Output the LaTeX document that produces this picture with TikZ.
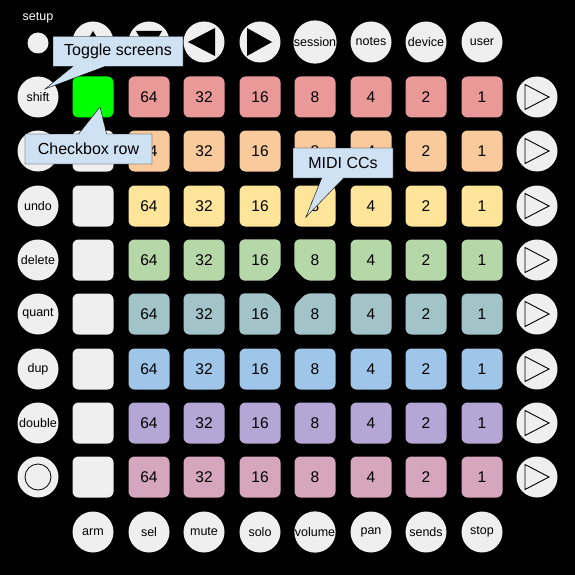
\documentclass[tikz,border=0pt]{standalone}
\usepackage{fontspec}
\setmainfont{Liberation Sans}
\usetikzlibrary{shapes.callouts,backgrounds}

\definecolor{btngrey}{HTML}{EFEFEF}
\definecolor{checkon}{HTML}{00FF00}
\definecolor{notebg}{HTML}{CFE2F3}
\definecolor{padA}{HTML}{EA9999}
\definecolor{padB}{HTML}{F9CB9C}
\definecolor{padC}{HTML}{FFE599}
\definecolor{padD}{HTML}{B6D7A8}
\definecolor{padE}{HTML}{A2C4C9}
\definecolor{padF}{HTML}{9FC5E8}
\definecolor{padG}{HTML}{B4A7D6}
\definecolor{padH}{HTML}{D5A6BD}

\tikzset{
  btn/.style={circle, fill=btngrey, minimum size=41pt, inner sep=0pt, font=\fontsize{12.5}{14}\selectfont},
  pad/.style={rectangle, rounded corners=6pt, minimum size=41pt, inner sep=0pt, font=\fontsize{15.5}{18}\selectfont},
  note/.style={rectangle callout, draw=black, fill=notebg, minimum height=30pt, inner sep=0pt, font=\fontsize{16}{19}\selectfont},
}

\begin{document}
\begin{tikzpicture}[x=1pt,y=-1pt]
\begin{scope}[on background layer]
\fill[black] (0,0) rectangle (575,575);
\end{scope}
\useasboundingbox (0,0) rectangle (575,575);

\node[text=white, font=\fontsize{12.5}{14}\selectfont] (setuplbl) at (38,18) {setup};
\node[circle, fill=btngrey, minimum size=21pt, inner sep=0pt] (setup) at (38,43) {};

\node[btn] (upbtn) at (93,42) {};
\node[btn] (downbtn) at (149,42) {};
\node[btn] (leftbtn) at (204,42) {};
\node[btn] (rightbtn) at (260,42) {};
\node[btn] (session) at (315,42) {session};
\node[btn] (notes) at (371,42) {notes};
\node[btn] (device) at (426,42) {device};
\node[btn] (user) at (482,42) {user};
\fill (upbtn.center) ++(0,-11) -- ++(13,22) -- ++(-26,0) -- cycle;
\fill (downbtn.center) ++(0,11) -- ++(13,-22) -- ++(-26,0) -- cycle;
\fill (leftbtn.center) ++(-16,0) -- ++(27,-14) -- ++(0,28) -- cycle;
\fill (rightbtn.center) ++(12,0) -- ++(-25,-14) -- ++(0,28) -- cycle;

\node[btn] (shift) at (38,97) {shift};
\node[btn] (clickbtn) at (38,151) {};
\node[btn] (undo) at (38,206) {undo};
\node[btn] (delete) at (38,260) {delete};
\node[btn] (quant) at (38,314) {quant};
\node[btn] (dup) at (38,369) {dup};
\node[btn] (double) at (38,423) {double};
\node[btn] (rec) at (38,477) {};
\draw[line width=0.8pt] (rec.center) circle (13);

\node[pad, fill=checkon] (chkA) at (93,97) {};
\node[pad, fill=btngrey] (chkB) at (93,151) {};
\node[pad, fill=btngrey] (chkC) at (93,206) {};
\node[pad, fill=btngrey] (chkD) at (93,260) {};
\node[pad, fill=btngrey] (chkE) at (93,314) {};
\node[pad, fill=btngrey] (chkF) at (93,369) {};
\node[pad, fill=btngrey] (chkG) at (93,423) {};
\node[pad, fill=btngrey] (chkH) at (93,477) {};

\node[pad, fill=padA] (A64) at (149,97) {64};
\node[pad, fill=padA] (A32) at (204,97) {32};
\node[pad, fill=padA] (A16) at (260,97) {16};
\node[pad, fill=padA] (A8) at (315,97) {8};
\node[pad, fill=padA] (A4) at (371,97) {4};
\node[pad, fill=padA] (A2) at (426,97) {2};
\node[pad, fill=padA] (A1) at (482,97) {1};

\node[pad, fill=padB] (B64) at (149,151) {64};
\node[pad, fill=padB] (B32) at (204,151) {32};
\node[pad, fill=padB] (B16) at (260,151) {16};
\node[pad, fill=padB] (B8) at (315,151) {8};
\node[pad, fill=padB] (B4) at (371,151) {4};
\node[pad, fill=padB] (B2) at (426,151) {2};
\node[pad, fill=padB] (B1) at (482,151) {1};

\node[pad, fill=padC] (C64) at (149,206) {64};
\node[pad, fill=padC] (C32) at (204,206) {32};
\node[pad, fill=padC] (C16) at (260,206) {16};
\node[pad, fill=padC] (C8) at (315,206) {8};
\node[pad, fill=padC] (C4) at (371,206) {4};
\node[pad, fill=padC] (C2) at (426,206) {2};
\node[pad, fill=padC] (C1) at (482,206) {1};

\node[pad, fill=padD] (D64) at (149,260) {64};
\node[pad, fill=padD] (D32) at (204,260) {32};
\node[pad] (D16) at (260,260) {16};
\node[pad] (D8) at (315,260) {8};
\node[pad, fill=padD] (D4) at (371,260) {4};
\node[pad, fill=padD] (D2) at (426,260) {2};
\node[pad, fill=padD] (D1) at (482,260) {1};

\node[pad, fill=padE] (E64) at (149,314) {64};
\node[pad, fill=padE] (E32) at (204,314) {32};
\node[pad] (E16) at (260,314) {16};
\node[pad] (E8) at (315,314) {8};
\node[pad, fill=padE] (E4) at (371,314) {4};
\node[pad, fill=padE] (E2) at (426,314) {2};
\node[pad, fill=padE] (E1) at (482,314) {1};

\begin{scope}[on background layer]
\fill[padD, rounded corners=5pt] (D16.north west) -- (D16.north east) -- ([yshift=12pt]D16.south east) -- ([xshift=-12pt]D16.south east) -- (D16.south west) -- cycle;
\fill[padD, rounded corners=5pt] (D8.north west) -- (D8.north east) -- (D8.south east) -- ([xshift=12pt]D8.south west) -- ([yshift=12pt]D8.south west) -- cycle;
\fill[padE, rounded corners=5pt] (E16.north west) -- ([xshift=-12pt]E16.north east) -- ([yshift=-12pt]E16.north east) -- (E16.south east) -- (E16.south west) -- cycle;
\fill[padE, rounded corners=5pt] ([yshift=-12pt]E8.north west) -- ([xshift=12pt]E8.north west) -- (E8.north east) -- (E8.south east) -- (E8.south west) -- cycle;
\end{scope}

\node[pad, fill=padF] (F64) at (149,369) {64};
\node[pad, fill=padF] (F32) at (204,369) {32};
\node[pad, fill=padF] (F16) at (260,369) {16};
\node[pad, fill=padF] (F8) at (315,369) {8};
\node[pad, fill=padF] (F4) at (371,369) {4};
\node[pad, fill=padF] (F2) at (426,369) {2};
\node[pad, fill=padF] (F1) at (482,369) {1};

\node[pad, fill=padG] (G64) at (149,423) {64};
\node[pad, fill=padG] (G32) at (204,423) {32};
\node[pad, fill=padG] (G16) at (260,423) {16};
\node[pad, fill=padG] (G8) at (315,423) {8};
\node[pad, fill=padG] (G4) at (371,423) {4};
\node[pad, fill=padG] (G2) at (426,423) {2};
\node[pad, fill=padG] (G1) at (482,423) {1};

\node[pad, fill=padH] (H64) at (149,477) {64};
\node[pad, fill=padH] (H32) at (204,477) {32};
\node[pad, fill=padH] (H16) at (260,477) {16};
\node[pad, fill=padH] (H8) at (315,477) {8};
\node[pad, fill=padH] (H4) at (371,477) {4};
\node[pad, fill=padH] (H2) at (426,477) {2};
\node[pad, fill=padH] (H1) at (482,477) {1};

\node[btn] (sceneA) at (537,97) {};
\node[btn] (sceneB) at (537,151) {};
\node[btn] (sceneC) at (537,206) {};
\node[btn] (sceneD) at (537,260) {};
\node[btn] (sceneE) at (537,314) {};
\node[btn] (sceneF) at (537,369) {};
\node[btn] (sceneG) at (537,423) {};
\node[btn] (sceneH) at (537,477) {};
\draw[line width=0.9pt] (sceneA.center) ++(-12,-12.5) -- ++(24,12.5) -- ++(-24,12.5) -- cycle;
\draw[line width=0.9pt] (sceneB.center) ++(-12,-12.5) -- ++(24,12.5) -- ++(-24,12.5) -- cycle;
\draw[line width=0.9pt] (sceneC.center) ++(-12,-12.5) -- ++(24,12.5) -- ++(-24,12.5) -- cycle;
\draw[line width=0.9pt] (sceneD.center) ++(-12,-12.5) -- ++(24,12.5) -- ++(-24,12.5) -- cycle;
\draw[line width=0.9pt] (sceneE.center) ++(-12,-12.5) -- ++(24,12.5) -- ++(-24,12.5) -- cycle;
\draw[line width=0.9pt] (sceneF.center) ++(-12,-12.5) -- ++(24,12.5) -- ++(-24,12.5) -- cycle;
\draw[line width=0.9pt] (sceneG.center) ++(-12,-12.5) -- ++(24,12.5) -- ++(-24,12.5) -- cycle;
\draw[line width=0.9pt] (sceneH.center) ++(-12,-12.5) -- ++(24,12.5) -- ++(-24,12.5) -- cycle;

\node[btn] (arm) at (93,532) {arm};
\node[btn] (sel) at (149,532) {sel};
\node[btn] (mute) at (204,532) {mute};
\node[btn] (solo) at (260,532) {solo};
\node[btn] (volume) at (315,532) {volume};
\node[btn] (pan) at (371,532) {pan};
\node[btn] (sends) at (426,532) {sends};
\node[btn] (stop) at (482,532) {stop};

\node[note, minimum width=130pt, callout absolute pointer={(45,89)}, callout pointer width=32pt] (toggle) at (118,51.5) {Toggle screens};
\node[note, minimum width=127pt, callout absolute pointer={(100,107)}, callout pointer width=28pt] (checkrow) at (88.5,149) {Checkbox row};
\node[note, minimum width=100pt, callout absolute pointer={(306,217)}, callout pointer width=22pt] (midicc) at (343,163) {MIDI CCs};
\end{tikzpicture}
\end{document}
